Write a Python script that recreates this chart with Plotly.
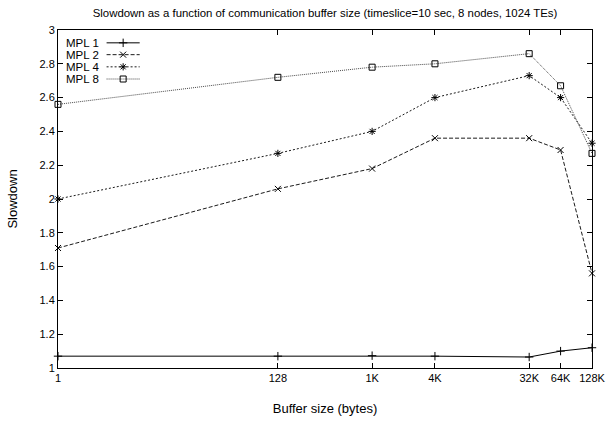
import math
import plotly.graph_objects as go

buffer_sizes = [1, 128, 1024, 4096, 32768, 65536, 131072]
tick_labels = ["1", "128", "1K", "4K", "32K", "64K", "128K"]
series_names = ["MPL 1", "MPL 2", "MPL 4", "MPL 8"]
mpl1 = [1.07, 1.07, 1.073, 1.07, 1.065, 1.10, 1.12]
mpl2 = [1.71, 2.06, 2.18, 2.36, 2.36, 2.29, 1.56]
mpl4 = [2.00, 2.27, 2.40, 2.60, 2.73, 2.60, 2.33]
mpl8 = [2.56, 2.72, 2.78, 2.80, 2.86, 2.67, 2.27]
y_ticks = [1, 1.2, 1.4, 1.6, 1.8, 2, 2.2, 2.4, 2.6, 2.8, 3]

styles = [
    dict(dash="solid", symbol="cross-thin-open", color="#000000", width=1.0),
    dict(dash="4px,2px", symbol="x-thin-open", color="#000000", width=0.9),
    dict(dash="2px,2px", symbol="asterisk-open", color="#000000", width=0.9),
    dict(dash="1px,1px", symbol="square-open", color="#333333", width=0.9),
]
values = [mpl1, mpl2, mpl4, mpl8]

fig = go.Figure()
for name, vals, st in zip(series_names, values, styles):
    fig.add_trace(go.Scatter(
        x=buffer_sizes, y=vals, name=name, mode="lines+markers",
        line=dict(color=st["color"], width=st["width"], dash=st["dash"]),
        marker=dict(symbol=st["symbol"], size=6, color="#000000",
                    line=dict(color="#000000", width=1)),
        showlegend=False, cliponaxis=False,
    ))

# custom gnuplot-style key (text left, sample right) on an overlay axis
row_y = [0.962, 0.927, 0.891, 0.855]
for name, st, ry in zip(series_names, styles, row_y):
    fig.add_trace(go.Scatter(
        x=[0.091, 0.122, 0.153], y=[ry, ry, ry], xaxis="x2", yaxis="y2",
        mode="lines", line=dict(color=st["color"], width=st["width"], dash=st["dash"]),
        showlegend=False, hoverinfo="skip",
    ))
    fig.add_trace(go.Scatter(
        x=[0.122], y=[ry], xaxis="x2", yaxis="y2", mode="markers",
        marker=dict(symbol=st["symbol"], size=6, color="#000000",
                    line=dict(color="#000000", width=1)),
        showlegend=False, hoverinfo="skip",
    ))
    fig.add_annotation(x=0.011, y=ry, xref="x2", yref="y2", text=name,
                       showarrow=False, xanchor="left", yanchor="middle",
                       font=dict(size=11.5, color="#000000"))

x_range = [math.log10(min(buffer_sizes)), math.log10(max(buffer_sizes)) + 1e-6]

fig.update_layout(
    width=614, height=423,
    margin=dict(l=58, r=22, t=30, b=55, autoexpand=False),
    paper_bgcolor="white", plot_bgcolor="white",
    font=dict(family="Liberation Sans, Arial, sans-serif", size=11, color="#000000"),
    title=dict(text="Slowdown as a function of communication buffer size (timeslice=10 sec, 8 nodes, 1024 TEs)",
               x=0.5, xref="paper", xanchor="center", y=0.97, yanchor="middle",
               font=dict(size=11.4)),
    xaxis=dict(type="log", range=x_range, tickvals=buffer_sizes, ticktext=tick_labels,
               ticks="inside", ticklen=5, tickcolor="#000000", showline=True,
               linecolor="#000000", linewidth=1, mirror="ticks", showgrid=False,
               zeroline=False, automargin=False,
               title=dict(text="Buffer size (bytes)", standoff=20)),
    yaxis=dict(range=[1, 3], tickvals=y_ticks, ticks="inside", ticklen=5,
               tickcolor="#000000", showline=True, linecolor="#000000", linewidth=1,
               mirror="ticks", showgrid=False, zeroline=False, automargin=False,
               title=dict(text="Slowdown", standoff=18)),
    xaxis2=dict(overlaying="x", range=[0, 1], visible=False, fixedrange=True),
    yaxis2=dict(overlaying="y", range=[0, 1], visible=False, fixedrange=True),
)

fig.write_html("out.html", config={"displayModeBar": False},
               post_script="document.body.style.margin='0';document.body.style.overflow='hidden';")
